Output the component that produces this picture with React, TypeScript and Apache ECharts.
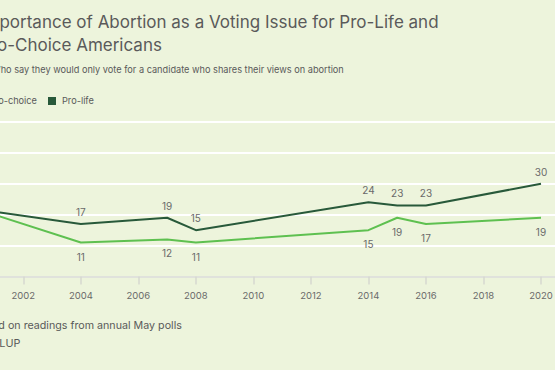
import React, { useEffect, useRef } from "react";
import * as echarts from "echarts";

const years = [2001, 2004, 2007, 2008, 2014, 2015, 2016, 2020];
const proLife = [21, 17, 19, 15, 24, 23, 23, 30];
const proChoice = [20, 11, 12, 11, 15, 19, 17, 19];
const hiddenLabelYears = [2001];

const titleLines = [
  "Importance of Abortion as a Voting Issue for Pro-Life and",
  "Pro-Choice Americans",
];
const subtitle = "% Who say they would only vote for a candidate who shares their views on abortion";
const legendNames = ["Pro-choice", "Pro-life"];
const footnote = "Based on readings from annual May polls";
const source = "GALLUP";

const BG = "#edf4dc";
const DARK = "#28593a";
const LIGHT = "#5ec050";
const TEXT = "#5a5a5a";
const FONT = "Inter, Roboto, sans-serif";

export default function App() {
  const ref = useRef<HTMLDivElement>(null);
  useEffect(() => {
    if (!ref.current) return;
    const chart = echarts.init(ref.current, undefined, { renderer: "svg" });
    const mk = (vals: number[]) =>
      years.map((y, i) => ({
        value: [y, vals[i]],
        label: { show: !hiddenLabelYears.includes(y) },
      }));
    const LX = -20;
    chart.setOption({
      animation: false,
      backgroundColor: BG,
      grid: {
        left: -34.2,
        right: -14.75,
        top: 122,
        bottom: 93.5,
        containLabel: false,
        outerBoundsMode: "none",
      },
      xAxis: {
        type: "value",
        min: 2000,
        max: 2021,
        interval: 2,
        axisLine: { show: true, lineStyle: { color: "#d6d9d0", width: 1.5 } },
        axisTick: { show: true, length: 8, lineStyle: { color: "#d6d9d0", width: 1.5 } },
        splitLine: { show: false },
        axisLabel: {
          color: "#6a6a6a",
          fontFamily: FONT,
          fontSize: 9.5,
          margin: 14,
          formatter: (v: number) => (v % 2 === 0 ? String(v) : ""),
        },
      },
      yAxis: {
        type: "value",
        min: 0,
        max: 50,
        interval: 10,
        axisLabel: { show: false },
        axisLine: { show: false },
        axisTick: { show: false },
        splitLine: { lineStyle: { color: "#ffffff", width: 2 } },
      },
      series: [
        {
          name: legendNames[0],
          type: "line",
          data: mk(proChoice),
          symbol: "circle",
          symbolSize: 0.1,
          lineStyle: { color: LIGHT, width: 2 },
          itemStyle: { color: LIGHT },
          label: {
            position: "bottom",
            distance: 9,
            color: "#6a6a6a",
            fontFamily: FONT,
            fontSize: 10,
          },
          z: 2,
        },
        {
          name: legendNames[1],
          type: "line",
          data: mk(proLife),
          symbol: "circle",
          symbolSize: 0.1,
          lineStyle: { color: DARK, width: 2 },
          itemStyle: { color: DARK },
          label: {
            position: "top",
            distance: 7,
            color: "#6a6a6a",
            fontFamily: FONT,
            fontSize: 10,
          },
          z: 3,
        },
      ],
      graphic: [
        {
          type: "text",
          x: LX,
          y: 13,
          style: { text: titleLines[0], fill: TEXT, font: `17px ${FONT}` },
        },
        {
          type: "text",
          x: LX,
          y: 36,
          style: { text: titleLines[1], fill: TEXT, font: `17px ${FONT}` },
        },
        {
          type: "text",
          x: LX,
          y: 65,
          style: { text: subtitle, fill: TEXT, font: `9.2px ${FONT}` },
        },
        {
          type: "rect",
          shape: { x: -23, y: 97, width: 8, height: 8 },
          style: { fill: LIGHT },
        },
        {
          type: "text",
          x: -11,
          y: 95.5,
          style: { text: legendNames[0], fill: TEXT, font: `9.2px ${FONT}` },
        },
        {
          type: "rect",
          shape: { x: 48, y: 97, width: 8, height: 8 },
          style: { fill: DARK },
        },
        {
          type: "text",
          x: 62,
          y: 95.5,
          style: { text: legendNames[1], fill: TEXT, font: `9.2px ${FONT}` },
        },
        {
          type: "text",
          x: -26.5,
          y: 319.5,
          style: { text: footnote, fill: TEXT, font: `10.7px ${FONT}` },
        },
        {
          type: "text",
          x: -22,
          y: 337.5,
          style: { text: source, fill: TEXT, font: `10.8px ${FONT}` },
        },
      ],
    });
    return () => chart.dispose();
  }, []);
  return (
    <div
      ref={ref}
      style={{ position: "absolute", left: 0, top: 0, width: 555, height: 370, background: BG }}
    />
  );
}
